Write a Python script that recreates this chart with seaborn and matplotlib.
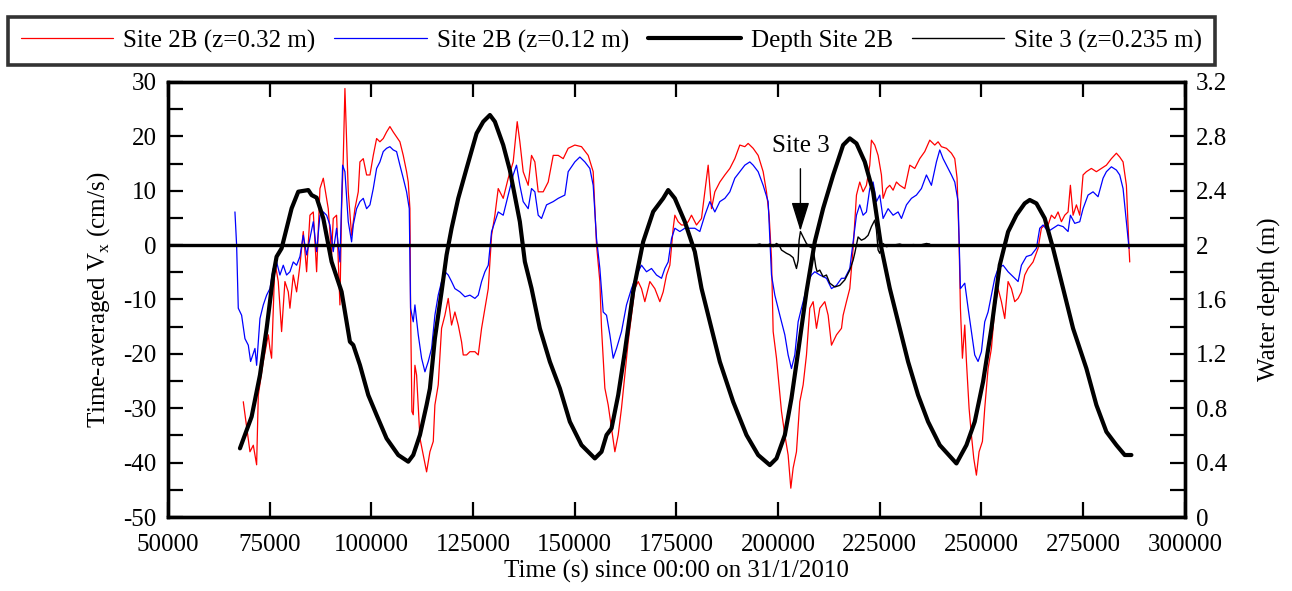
import matplotlib
matplotlib.use("Agg")
import numpy as np
import pandas as pd
import matplotlib.pyplot as plt
import seaborn as sns
from matplotlib.ticker import MultipleLocator, FuncFormatter
from matplotlib.lines import Line2D


# Site 2B, z=0.32 m (time in s, velocity in cm/s)
red_time = [
    68520, 70160, 70980, 71800, 72210, 73440, 74670, 75070, 75480, 76300,
    77120, 77940, 78760, 79580, 79990, 80810, 81630, 82450, 83270, 84090,
    84910, 85730, 86550, 87370, 88190, 89000, 89410, 90230, 90640, 91460,
    92280, 92690, 93100, 93510, 93920, 94330, 95150, 95970, 96790, 97200,
    98020, 98840, 99660, 100480, 101300, 102110, 102930, 103750, 104570, 105390,
    106210, 107030, 107850, 108670, 109080, 109490, 109650, 109980, 110310, 110720,
    111130, 111950, 112770, 113590, 114410, 115230, 115630, 116450, 117270, 118090,
    118910, 119730, 120550, 121370, 122190, 122600, 123420, 124240, 125470, 126290,
    127110, 127930, 128750, 129570, 130380, 131200,
    132430, 133660, 134880, 135870, 136520, 137340, 138570, 139390, 140210, 141030,
    142260, 143490, 144720, 145950, 147180, 148400, 150040, 151680, 153320, 154550,
    155370, 156190, 156600, 157420, 158240, 159060, 159880, 160700, 161510, 162330,
    163150, 163970, 164790, 165610, 166430, 167250, 168480, 169710, 170940, 171760,
    172580, 173400, 174220, 174630, 175440, 176260, 177080, 177900, 178720, 179950,
    181180, 182000, 182820, 183640, 184460, 185690, 186920, 188150, 189370, 190600,
    191830, 192650, 193880, 195110, 196340, 197160, 197810, 198390, 198800, 199620,
    200850, 201670, 202480, 203140, 203710, 204530, 205350, 206170, 206990, 207810,
    208630, 209450, 210270, 211500, 212320, 213140, 214370, 215600,
    216000, 216820, 217640, 218460, 219280, 220090, 220910, 221730, 222550, 222960,
    223780, 224600, 225420, 225830, 226650, 227470, 228290, 229110, 229930, 231160,
    232390, 233620, 234840, 236070, 237300, 238530, 239350, 240170, 241400, 242630,
    243450, 244020, 244510, 244840, 245330, 245910, 246320, 246970, 247540, 248120,
    248770, 249430, 250250, 250820, 251640, 252460, 253280, 254100, 254920, 255740,
    256560, 257380, 258200, 259020, 259840, 260660, 261470, 262700, 263930, 264750,
    265570, 266390, 267210, 268030, 268850, 269670, 270490, 271310, 271880, 272540,
    273360, 274180, 274990, 275810, 277040, 278270, 279500, 280730, 281960, 283190,
    284010, 284830, 285650, 286220, 286470,
]
red_vel = [
    -28.8, -38.0, -36.8, -40.4, -27.6, -21.4, -16.5, -19.0, -20.8, -3.1,
    -6.7, -15.9, -6.7, -8.6, -11.6, -5.5, -8.6, -3.7, 2.5, -4.9,
    5.5, 6.1, -4.9, 10.4, 12.3, 8.6, 6.7, -1.8, 4.9, 5.5,
    -11.0, 6.7, 15.9, 28.8, 19.0, 9.8, 1.8, 6.7, 9.8, 15.3,
    15.9, 12.9, 12.9, 16.5, 19.6, 19.0, 19.6, 20.8, 21.8, 20.8,
    19.9, 19.0, 16.5, 13.5, 11.6, 6.7, -11.6, -30.6, -31.2, -22.1,
    -23.9, -35.5, -38.6, -41.7, -38.0, -36.1, -29.4, -25.7, -15.3, -12.9,
    -9.8, -14.7, -12.3, -14.7, -17.8, -20.2, -20.2, -19.6, -19.6, -20.2,
    -15.3, -11.6, -8.0, 1.8, 5.5, 10.4,
    8.6, 12.3, 15.3, 22.7, 19.0, 13.5, 11.0, 16.5, 15.3, 9.8,
    9.8, 11.6, 16.5, 16.5, 15.9, 17.8, 18.4, 18.1, 16.5, 13.5,
    0.0, -6.7, -15.3, -26.3, -29.4, -33.7, -38.0, -34.9, -30.0, -23.9,
    -17.8, -12.9, -8.0, -6.7, -8.0, -10.4, -6.7, -8.0, -10.4, -8.6,
    -5.5, -3.7, 3.1, 5.5, 4.3, 3.7, 3.7, 4.3, 5.5, 3.7,
    4.9, 9.8, 14.7, 6.7, 9.8, 11.6, 12.9, 14.1, 15.9, 18.4,
    18.1, 18.7, 17.8, 16.5, 13.5, 9.8, 5.5, -2.4, -15.9, -20.8,
    -30.6, -34.9, -38.6, -44.7, -41.0, -38.0, -28.8, -25.7, -20.2, -11.6,
    -10.4, -15.3, -11.6, -10.4, -12.9, -18.4, -16.5, -15.3,
    -12.9, -10.4, -8.0, -0.6, 9.2, 11.6, 9.8, 11.0, 14.7, 19.3,
    18.4, 16.5, 12.9, 8.6, 10.4, 11.0, 10.1, 11.6, 11.0, 10.4,
    14.7, 14.1, 15.9, 17.2, 19.3, 18.4, 19.0, 18.1, 17.8, 16.9,
    15.9, 12.3, 0.6, -11.6, -20.8, -14.7, -21.4, -30.0, -34.9, -39.2,
    -42.3, -38.0, -36.1, -30.0, -22.7, -19.0, -11.6, -8.0, -10.4, -13.5,
    -6.7, -8.0, -10.4, -9.8, -8.6, -5.5, -4.3, -3.1, -0.6, 3.1,
    3.7, 3.7, 5.5, 4.9, 6.1, 4.3, 5.5, 6.1, 11.0, 5.5,
    7.4, 5.5, 12.9, 13.5, 14.1, 13.5, 14.1, 14.7, 15.9, 16.9,
    16.2, 15.3, 11.0, 0.6, -3.1,
]

# Site 2B, z=0.12 m
blue_time = [
    66470, 66880, 67290, 68110, 68930, 69750, 70320, 71390, 71800, 72620,
    73440, 74260, 75070, 75890, 76710, 77530, 78350, 79170, 79990, 80810,
    81630, 82450, 83270, 84090, 84910, 85730, 86550, 87370, 88190, 89000,
    89820, 90640, 91460, 92280, 92940, 93510, 94330, 95150, 95560, 96380,
    97200, 98020, 98840, 99660, 100480, 101300, 102110, 102930, 103750, 104570,
    105390, 106210, 107030, 107850, 108670, 109330, 109650, 110310, 110720, 111540,
    112360, 113180, 114000, 114820, 115630, 116450, 117270, 118090, 118910, 119730,
    120550, 121780, 123010, 124240, 125470, 126290, 127110, 127930, 128750, 129570,
    130380, 131200,
    132430, 133660, 134880, 135700, 136520, 137340, 138570, 139390, 140210, 141030,
    141850, 143080, 144720, 145950, 147580, 148400, 150040, 151270, 152500, 153730,
    154550, 155370, 156190, 157010, 157830, 158650, 159470, 160290, 161510, 162740,
    163970, 165200, 166430, 167660, 168890, 170120, 171350, 172170, 172990, 173810,
    174630, 175850, 177080, 178310, 179540, 180770, 182000, 183230, 184460, 185690,
    186920, 188150, 189370, 190600, 191830, 193060, 193880, 195110, 196340, 197570,
    198390, 199210, 200440, 201670, 202480, 203300, 204120, 204940, 205760, 206580,
    207400, 208220, 209040, 210270, 211910, 213140, 214370, 215600,
    216410, 217640, 218460, 219280, 220090, 220910, 221730, 222550, 223370, 224190,
    225010, 225830, 227060, 228290, 229520, 230340, 231570, 232800, 234020, 235250,
    236480, 237710, 238940, 239760, 240580, 241400, 242630, 243450, 244270, 244840,
    245910, 246730, 247540, 248360, 249180, 250000, 250820, 251640, 252460, 253280,
    254100, 255330, 256560, 257380, 258200, 259020, 259840, 261060, 262290, 263520,
    264340, 265160, 266390, 267620, 268850, 270080, 271310, 271880, 272950, 274180,
    274990, 276220, 277450, 278680, 279910, 280730, 281960, 283190, 284010, 284830,
    285650, 286300,
]
blue_vel = [
    6.1, 0.0, -11.6, -12.9, -17.2, -18.4, -21.4, -19.0, -22.1, -13.5,
    -11.0, -9.2, -8.0, -4.3, -3.1, -5.5, -3.7, -5.5, -4.9, -3.1,
    -3.7, -2.1, 1.8, -1.8, 1.2, 4.3, -1.2, 5.5, 6.1, 5.5,
    3.7, -1.2, 3.1, -3.1, 14.7, 13.5, 4.3, 0.6, 3.7, 6.7,
    8.0, 8.6, 6.7, 7.4, 10.4, 14.1, 15.3, 17.2, 17.8, 18.1,
    17.5, 17.2, 14.7, 12.3, 9.8, 6.7, -11.6, -14.1, -11.0, -16.5,
    -20.8, -23.3, -21.4, -19.0, -12.9, -9.2, -6.7, -4.9, -5.5, -6.7,
    -8.0, -8.6, -9.5, -9.2, -9.8, -9.2, -6.7, -4.9, -3.7, 2.5,
    4.3, 6.1,
    5.5, 9.2, 12.9, 14.7, 11.0, 8.0, 6.7, 10.4, 9.8, 5.5,
    4.9, 7.4, 8.0, 8.6, 9.2, 13.5, 15.3, 16.2, 15.3, 14.1,
    11.0, 1.2, -4.3, -12.3, -12.9, -16.5, -20.8, -19.0, -15.9, -11.0,
    -8.0, -5.5, -3.7, -4.9, -4.3, -5.5, -6.1, -4.3, -3.1, 1.2,
    3.1, 2.5, 3.1, 3.1, 3.1, 2.5, 5.5, 8.0, 6.1, 8.0,
    8.6, 9.8, 12.3, 13.5, 14.7, 15.3, 14.7, 13.5, 11.0, 8.0,
    -5.5, -9.2, -12.9, -16.5, -20.2, -22.7, -20.2, -14.1, -11.6, -9.2,
    -6.7, -5.5, -4.9, -5.5, -6.1, -8.0, -7.4, -6.1,
    -6.1, -4.3, 0.6, 5.5, 7.4, 5.5, 6.1, 10.4, 11.6, 8.0,
    9.2, 4.9, 6.7, 5.5, 6.1, 4.9, 7.4, 8.6, 9.2, 10.4,
    12.9, 11.0, 15.3, 17.5, 15.9, 14.7, 12.9, 11.6, 8.0, -8.0,
    -7.0, -11.6, -15.9, -20.2, -21.4, -19.6, -14.1, -12.3, -9.2, -6.1,
    -4.3, -3.7, -4.9, -5.5, -6.1, -6.7, -3.7, -2.1, -1.8, -0.6,
    3.1, 3.7, 2.5, 3.1, 3.7, 3.4, 2.5, 5.5, 4.0, 4.3,
    6.7, 9.2, 9.8, 8.9, 12.3, 13.5, 14.4, 13.8, 12.9, 10.4,
    4.3, -0.6,
]

# Water depth at Site 2B (m)
depth_time = [
    67700, 70570, 72620, 74260, 75890, 76710, 77940, 79170, 80400, 82040,
    84500, 85320, 86550, 88190, 90230, 92690, 94740, 95560, 97200, 99250,
    101300, 103750, 106620, 109080, 110310, 111950, 113590, 114410, 115630, 117270,
    118500, 119730, 121370, 123420, 125880, 127520, 129160, 130380, 132430, 134070,
    136520, 137750, 139390, 141440, 143900, 146360, 148810, 151680, 154960, 156600,
    157830, 159060, 160700, 162330, 164380, 166840, 169300, 171760, 172990, 174620,
    177080, 179540, 181180, 183230, 185690, 188960, 192240, 195110, 197980, 199620,
    201670, 203300, 204940, 206990, 209040, 211090, 213550, 216000, 217640, 219280,
    221320, 223370, 225420, 227470, 229930, 231980, 234430, 236890, 239760, 243860,
    246320, 248360, 250410, 252460, 254510, 256560, 258610, 260650, 261880, 263520,
    265570, 267620, 270080, 272540, 275810, 278270, 280730, 283190, 285240, 286880,
]
depth_m = [
    0.505, 0.738, 1.044, 1.387, 1.780, 1.915, 1.976, 2.123, 2.270, 2.393,
    2.405, 2.368, 2.349, 2.197, 1.878, 1.657, 1.289, 1.265, 1.118, 0.897,
    0.750, 0.578, 0.456, 0.407, 0.456, 0.603, 0.824, 0.946, 1.314, 1.657,
    1.927, 2.123, 2.344, 2.564, 2.822, 2.908, 2.957, 2.908, 2.736, 2.550,
    2.172, 1.878, 1.682, 1.387, 1.142, 0.946, 0.701, 0.529, 0.431, 0.480,
    0.603, 0.652, 0.897, 1.216, 1.657, 2.025, 2.246, 2.344, 2.405, 2.344,
    2.172, 1.951, 1.682, 1.436, 1.142, 0.848, 0.603, 0.456, 0.382, 0.431,
    0.603, 0.873, 1.216, 1.657, 2.025, 2.270, 2.515, 2.736, 2.785, 2.748,
    2.613, 2.393, 1.976, 1.682, 1.387, 1.142, 0.897, 0.701, 0.529, 0.394,
    0.529, 0.701, 0.995, 1.387, 1.853, 2.098, 2.221, 2.307, 2.332, 2.307,
    2.197, 1.976, 1.682, 1.387, 1.093, 0.824, 0.627, 0.529, 0.456, 0.456,
]

# Site 3, z=0.235 m
site3_time = [
    194290, 195510, 196740, 197970, 198790, 199610, 200270, 200840, 202070, 202890,
    203710, 204530, 204940, 205180, 205510, 206170, 206980, 207800, 208620, 209280,
    209610, 210260, 211080, 211900, 212720, 213950, 215180, 216410, 217640, 218450,
    218860, 219680, 220500, 221320, 222140, 222960, 223780, 224190, 224600, 225010,
    225830, 226650, 228290, 229920, 231560, 233200, 234840, 236480, 237300,
]
site3_vel = [
    0.0, 0.2, -0.2, 0.2, -0.3, 0.3, 0.0, -0.9, -1.5, -1.8,
    -2.3, -4.3, -2.8, 0.9, 2.5, 1.5, 0.3, -0.3, -0.6, -4.0,
    -4.9, -4.6, -5.8, -5.5, -7.0, -7.7, -7.4, -6.4, -4.6, -2.8,
    -1.5, 1.5, 0.9, 1.2, 1.8, 3.4, 4.6, 2.8, -0.9, -1.5,
    0.3, -0.3, 0.0, 0.2, -0.2, 0.1, 0.0, 0.3, 0.2,
]

site3_mark_time = 205500
series_labels = ["Site 2B (z=0.32 m)", "Site 2B (z=0.12 m)", "Depth Site 2B", "Site 3 (z=0.235 m)"]


sns.set_theme(style="ticks")
plt.rcParams["font.family"] = ["Liberation Serif", "DejaVu Serif"]
plt.rcParams["mathtext.fontset"] = "custom"
plt.rcParams["mathtext.rm"] = "Liberation Serif"
plt.rcParams["axes.unicode_minus"] = False
for key in ["text.color", "axes.labelcolor", "xtick.color", "ytick.color", "axes.edgecolor"]:
    plt.rcParams[key] = "black"

fig = plt.figure(figsize=(12.92, 5.91), dpi=100)
ax = fig.add_axes([0.130, 0.1252, 0.787, 0.7361])
ax2 = ax.twinx()

red_df = pd.DataFrame({"t": red_time, "v": red_vel})
blue_df = pd.DataFrame({"t": blue_time, "v": blue_vel})
site3_df = pd.DataFrame({"t": site3_time, "v": site3_vel})
depth_df = pd.DataFrame({"t": depth_time, "d": depth_m})

sns.lineplot(data=red_df, x="t", y="v", ax=ax, color="red", lw=0.9, estimator=None, sort=False)
sns.lineplot(data=blue_df, x="t", y="v", ax=ax, color="blue", lw=0.9, estimator=None, sort=False)
ax.axhline(0, color="black", lw=2.4, zorder=3)
sns.lineplot(data=site3_df, x="t", y="v", ax=ax, color="black", lw=1.0, estimator=None, sort=False, zorder=4)
sns.lineplot(data=depth_df, x="t", y="d", ax=ax2, color="black", lw=3.0, estimator=None, sort=False)

ax.annotate("Site 3", xy=(site3_mark_time, 2.6), xytext=(site3_mark_time, 18.2),
            ha="center", va="center", fontsize=18,
            arrowprops=dict(arrowstyle="-|>,head_length=0.9,head_width=0.28",
                            mutation_scale=20, color="black", lw=1.0,
                            shrinkA=6, shrinkB=0))

ax.set_xlim(50000, 300000)
ax.set_ylim(-50, 30)
ax2.set_ylim(0, 3.2)

ax.xaxis.set_major_locator(MultipleLocator(25000))
ax.xaxis.set_major_formatter(FuncFormatter(lambda v, p: f"{v:.0f}"))
ax.yaxis.set_major_locator(MultipleLocator(10))
ax.yaxis.set_minor_locator(MultipleLocator(5))
ax.yaxis.set_major_formatter(FuncFormatter(lambda v, p: f"{v:.0f}"))
ax2.yaxis.set_major_locator(MultipleLocator(0.4))
ax2.yaxis.set_minor_locator(MultipleLocator(0.2))
ax2.yaxis.set_major_formatter(FuncFormatter(lambda v, p: f"{v:g}"))

ax.tick_params(axis="both", which="both", direction="in", length=11, width=1.6, labelsize=18)
ax.tick_params(axis="x", top=True, bottom=True, pad=12)
ax.tick_params(axis="y", left=True, right=False, pad=8)
ax2.tick_params(axis="y", which="both", direction="in", length=11, width=1.6,
                labelsize=18, right=True, pad=8)

for a in (ax, ax2):
    for sp in a.spines.values():
        sp.set_linewidth(2.4)
        sp.set_color("black")

ax.set_xlabel("Time (s) since 00:00 on 31/1/2010", fontsize=18, labelpad=3)
ax.set_ylabel(r"Time-averaged V$_{\mathrm{x}}$ (cm/s)", fontsize=18, labelpad=8)
ax2.set_ylabel("Water depth (m)", fontsize=18, labelpad=22, rotation=90)

handles = [
    Line2D([], [], color="red", lw=0.9),
    Line2D([], [], color="blue", lw=0.9),
    Line2D([], [], color="black", lw=3.0),
    Line2D([], [], color="black", lw=1.0),
]
leg = fig.legend(handles, series_labels, loc="lower left", ncol=4, mode="expand",
                 bbox_to_anchor=(0.0062, 0.890, 0.934, 0.1015), fontsize=18,
                 frameon=True, fancybox=False, edgecolor="black",
                 handlelength=3.7, handletextpad=0.4, columnspacing=0.4,
                 borderaxespad=0.0, borderpad=0.5)
leg.get_frame().set_linewidth(2.6)

fig.savefig("out.png", dpi=100)
